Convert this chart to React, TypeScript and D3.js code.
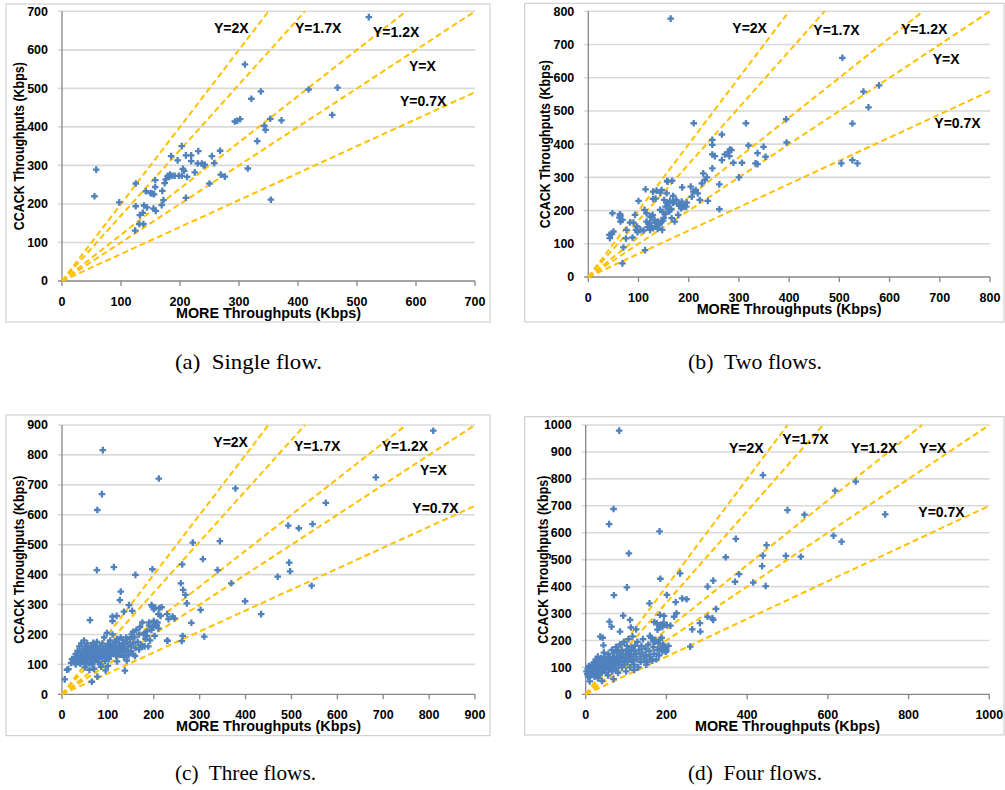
import React from 'react';
import * as d3 from 'd3';

type Pt = [number, number];

const slopes = [2, 1.7, 1.2, 1, 0.7];
const slopeLabels = ['Y=2X', 'Y=1.7X', 'Y=1.2X', 'Y=X', 'Y=0.7X'];
const xTitle = 'MORE Throughputs (Kbps)';
const yTitle = 'CCACK Throughputs (Kbps)';
const captions = ['(a)  Single flow.', '(b)  Two flows.', '(c)  Three flows.', '(d)  Four flows.'];
const axisMax = [700, 800, 900, 1000];
const xTickStep = [100, 100, 100, 200];
const yTickStep = [100, 100, 100, 100];

const singleFlow: Pt[] = [
  [520, 685], [58, 289], [55, 220], [97, 204], [125, 253], [125, 194], [124, 131], [131, 148], [138, 148],
  [132, 171], [137, 177], [139, 196], [144, 191], [142, 233], [153, 227], [156, 225], [158, 244], [158, 262],
  [155, 188], [159, 182], [169, 197], [170, 234], [172, 210], [174, 254], [176, 264], [179, 273], [183, 276],
  [185, 324], [187, 273], [191, 273], [196, 313], [198, 273], [203, 350], [203, 273], [205, 291], [207, 286],
  [210, 326], [210, 216], [212, 270], [219, 326], [219, 311], [225, 282], [230, 305], [231, 337], [237, 305],
  [242, 302], [254, 324], [258, 306], [250, 253], [268, 338], [269, 276], [276, 271], [293, 414], [297, 416],
  [302, 420], [310, 562], [315, 292], [321, 473], [331, 363], [337, 492], [343, 403], [345, 392], [353, 421],
  [354, 211], [372, 417], [418, 497], [467, 502], [458, 431], [150, 228], [182, 271], [240, 300],
];

const twoFlows: Pt[] = [
  [164, 778], [506, 660], [579, 577], [548, 558], [558, 511], [526, 462], [504, 342], [526, 352], [536, 342],
  [394, 475], [395, 405], [210, 463], [314, 463], [266, 429], [247, 413], [247, 398], [247, 369], [252, 364],
  [247, 327], [266, 352], [272, 369], [279, 377], [282, 384], [285, 382], [281, 364], [289, 344], [306, 344],
  [319, 396], [337, 373], [349, 392], [353, 362], [333, 342], [337, 340], [300, 300], [261, 279], [261, 204],
  [229, 312], [232, 292], [236, 300], [226, 282], [238, 229], [222, 232], [204, 272], [209, 257], [218, 252],
  [214, 262], [206, 242], [187, 270], [186, 227], [189, 212], [195, 212], [185, 207], [179, 187], [169, 244],
  [169, 224], [167, 290], [158, 287], [151, 232], [156, 224], [160, 222], [154, 212], [163, 202], [172, 167],
  [166, 177], [146, 262], [143, 254], [143, 202], [149, 170], [147, 142], [136, 260], [129, 257], [129, 235],
  [128, 187], [123, 182], [116, 167], [114, 264], [112, 202], [113, 81], [100, 229], [93, 187], [95, 142],
  [98, 135], [90, 164], [83, 164], [88, 119], [75, 116], [76, 142], [70, 89], [68, 41], [63, 189], [62, 179],
  [64, 167], [68, 172], [48, 192], [50, 137], [42, 127], [43, 117], [123, 142], [129, 147], [133, 164],
  [139, 167], [136, 152], [123, 164], [116, 192], [126, 182], [161, 197], [156, 252], [163, 230], [175, 232],
  [180, 220], [196, 224], [97, 152], [104, 142], [64, 185], [47, 129], [157, 289], [134, 236], [120, 160],
  [126, 150], [132, 172], [138, 145], [142, 158], [150, 178], [153, 190], [145, 165], [158, 215], [165, 205],
  [170, 226], [192, 214], [181, 214], [148, 196], [110, 140], [118, 150],
];

const threeFlows: Pt[] = [
  [809, 881], [684, 725], [575, 640], [493, 564], [516, 555], [546, 569], [495, 440], [497, 411], [470, 393],
  [544, 363], [378, 688], [369, 371], [399, 311], [434, 268], [344, 512], [339, 415], [307, 452], [302, 282],
  [310, 193], [285, 507], [282, 239], [262, 434], [259, 371], [264, 349], [269, 332], [272, 304], [263, 195],
  [241, 260], [245, 254], [230, 179], [229, 268], [217, 291], [211, 721], [197, 418], [197, 293], [200, 284],
  [89, 816], [87, 669], [77, 616], [76, 415], [113, 425], [160, 399], [61, 248], [128, 343], [126, 315],
  [146, 298], [153, 279], [135, 276], [119, 262], [110, 260], [110, 245], [155, 209], [159, 128], [141, 113],
  [137, 79], [65, 42], [77, 59], [6, 50], [11, 82], [14, 84], [212, 287], [210, 268], [232, 251], [229, 179],
  [261, 178], [195, 298], [203, 290], [206, 230], [215, 262], [190, 240], [180, 205], [185, 195], [175, 160],
  [168, 150],
  [20, 105], [22, 118], [25, 112], [28, 125], [30, 100], [30, 135], [32, 118], [34, 145], [35, 108], [36, 128],
  [38, 160], [38, 118], [40, 140], [40, 102], [42, 130], [42, 170], [43, 115], [45, 150], [45, 125], [46, 108],
  [48, 138], [48, 180], [50, 120], [50, 160], [52, 145], [52, 100], [54, 130], [55, 115], [55, 170], [56, 140],
  [58, 125], [58, 155], [60, 105], [60, 148], [62, 132], [62, 118], [64, 160], [65, 142], [66, 100], [66, 125],
  [68, 150], [68, 172], [70, 112], [70, 135], [72, 160], [72, 120], [74, 145], [75, 128], [76, 175], [78, 108],
  [78, 150], [80, 138], [80, 118], [82, 160], [84, 130], [85, 100], [86, 145], [88, 170], [88, 122], [90, 150],
  [90, 135], [92, 190], [94, 112], [95, 160], [96, 140], [98, 205], [98, 128], [100, 150], [100, 168], [102, 140],
  [102, 118], [104, 155], [105, 180], [106, 130], [108, 160], [108, 145], [110, 150], [110, 200], [112, 135],
  [112, 165], [114, 155], [115, 175], [116, 143], [118, 160], [118, 128], [120, 150], [120, 185], [122, 140],
  [124, 170], [125, 158], [126, 132], [128, 150], [128, 190], [130, 165], [130, 140], [132, 182], [134, 155],
  [135, 125], [136, 170], [138, 150], [140, 190], [140, 140], [142, 175], [144, 160], [145, 130], [148, 185],
  [150, 165], [150, 145], [152, 200], [155, 170], [155, 135], [158, 190], [160, 155], [162, 215], [165, 175],
  [168, 200], [170, 225], [172, 165], [175, 240], [178, 200], [180, 160], [182, 185], [185, 210], [188, 160],
  [190, 230], [192, 180], [195, 215], [198, 225], [200, 245], [202, 195], [205, 230], [208, 240], [210, 220],
  [70, 85], [85, 92], [100, 95], [120, 110], [95, 80], [60, 82], [50, 90],
];

const fourFlows: Pt[] = [
  [83, 979], [69, 688], [58, 632], [107, 523], [183, 605], [102, 397], [70, 368], [185, 429], [234, 449],
  [201, 369], [439, 814], [669, 790], [618, 756], [742, 668], [500, 684], [542, 667], [614, 589], [634, 567],
  [496, 514], [533, 511], [372, 577], [347, 509], [448, 554], [439, 515], [437, 476], [446, 402], [415, 415],
  [380, 446], [370, 418], [316, 422], [302, 400], [323, 317], [314, 282], [316, 276], [302, 288], [283, 264],
  [284, 233], [264, 241], [259, 177], [250, 353], [239, 356], [223, 342], [225, 301], [219, 288], [201, 257],
  [194, 291], [184, 295], [193, 266], [183, 249], [176, 264], [184, 202], [188, 167], [198, 165], [168, 196],
  [172, 202], [158, 338], [159, 217], [110, 276], [112, 248], [125, 241], [93, 292], [85, 233], [59, 270],
  [64, 251], [36, 214], [42, 210], [69, 56], [44, 182], [186, 258], [170, 268], [178, 240], [190, 250],
  [210, 255], [205, 180], [195, 175],
  [2, 85], [4, 75], [5, 95], [6, 65], [8, 88], [8, 105], [10, 78], [10, 48], [12, 92], [12, 70], [14, 100],
  [15, 82], [16, 110], [18, 72], [18, 95], [20, 85], [20, 118], [22, 100], [22, 65], [24, 90], [25, 130],
  [26, 108], [28, 78], [28, 95], [30, 115], [30, 140], [32, 88], [32, 100], [34, 125], [35, 72], [36, 108],
  [38, 95], [38, 135], [40, 118], [40, 85], [42, 102], [44, 128], [45, 155], [46, 92], [48, 112], [48, 140],
  [50, 80], [50, 120], [52, 98], [54, 130], [55, 108], [56, 150], [58, 90], [58, 118], [60, 135], [60, 100],
  [62, 125], [64, 110], [65, 165], [66, 85], [68, 140], [68, 120], [70, 100], [70, 155], [72, 130], [74, 115],
  [75, 175], [76, 95], [78, 140], [80, 125], [80, 160], [82, 108], [84, 145], [85, 185], [86, 120], [88, 135],
  [90, 100], [90, 165], [92, 150], [94, 125], [95, 195], [96, 110], [98, 140], [100, 160], [100, 130],
  [102, 180], [104, 120], [105, 145], [106, 205], [108, 165], [110, 135], [110, 100], [112, 150], [114, 175],
  [115, 125], [116, 215], [118, 140], [120, 160], [120, 110], [122, 180], [125, 150], [126, 130], [128, 195],
  [130, 100], [132, 165], [135, 140], [136, 120], [138, 180], [140, 155], [142, 205], [145, 130], [148, 170],
  [150, 145], [152, 120], [155, 185], [158, 160], [160, 140], [162, 210], [165, 125], [168, 175], [170, 150],
  [172, 195], [175, 130], [178, 165], [180, 190], [182, 145], [185, 170], [188, 210], [190, 160], [192, 185],
  [195, 165], [198, 158], [200, 162],
  [30, 60], [40, 50], [55, 70], [80, 80], [100, 85], [120, 90], [150, 110], [160, 130],
];

const seriesList: Pt[][] = [singleFlow, twoFlows, threeFlows, fourFlows];

// layout (pixels)
const layouts = [
  { frame: [6, 4, 490, 322], plot: [62, 11.3, 475, 281], cap: [175, 369, 147],
    labels: [[214, 28.3], [295, 28.3], [373, 32], [409, 66], [400, 101]] },
  { frame: [524.7, 3.3, 1004, 322], plot: [588.3, 11.3, 990, 277], cap: [688, 369, 134],
    labels: [[732.3, 28.3], [813.3, 30], [901, 29.3], [932.7, 59.3], [934.3, 123.3]] },
  { frame: [6, 415, 490, 735.7], plot: [62, 425, 475, 694.3], cap: [175, 780, 141],
    labels: [[213.3, 442.3], [294, 446], [381.7, 446], [420, 470], [412.3, 507.7]] },
  { frame: [524.7, 416.7, 1004, 735], plot: [585.7, 425, 989.3, 694.3], cap: [688, 780, 134],
    labels: [[729, 448.3], [782.3, 439.3], [851, 448.3], [919.3, 448.3], [918.3, 511.7]] },
];

const SANS = '"Liberation Sans", Arial, sans-serif';
const SERIF = '"Liberation Serif", "Times New Roman", serif';
const BLUE = '#4F81BD';
const GOLD = '#FFC000';

function Panel({ idx }: { idx: number }) {
  const L = layouts[idx];
  const max = axisMax[idx];
  const [pl, pt, pr, pb] = L.plot;
  const x = d3.scaleLinear().domain([0, max]).range([pl, pr]);
  const y = d3.scaleLinear().domain([0, max]).range([pb, pt]);
  const xt = d3.range(0, max + 1, xTickStep[idx]);
  const yt = d3.range(0, max + 1, yTickStep[idx]);
  const line = d3.line<Pt>().x((d) => x(d[0])).y((d) => y(d[1]));
  const pts = seriesList[idx];
  const [fx0, fy0, fx1, fy1] = L.frame;
  const cx = (pl + pr) / 2;
  const cy = (pt + pb) / 2;
  return (
    <g>
      <rect x={fx0} y={fy0} width={fx1 - fx0} height={fy1 - fy0} fill="#fff" stroke="#c8c8c8" strokeWidth={1} />
      {yt.filter((v) => v > 0).map((v) => (
        <line key={'g' + v} x1={pl - 4} x2={pr} y1={y(v)} y2={y(v)} stroke="#d9d9d9" strokeWidth={1.6} />
      ))}
      <line x1={pl} x2={pl} y1={pt} y2={pb} stroke="#868686" strokeWidth={1.3} />
      <line x1={pl - 4} x2={pr} y1={pb} y2={pb} stroke="#868686" strokeWidth={1.3} />
      {xt.map((v) => (
        <line key={'t' + v} x1={x(v)} x2={x(v)} y1={pb} y2={pb + 5} stroke="#868686" strokeWidth={1.3} />
      ))}
      {yt.map((v) => (
        <text key={'yl' + v} x={pl - 14} y={y(v) + 4.4} textAnchor="end" fontFamily={SANS} fontWeight="bold" fontSize={12.5} fill="#000">
          {v}
        </text>
      ))}
      {xt.map((v) => (
        <text key={'xl' + v} x={x(v)} y={pb + 24.5} textAnchor="middle" fontFamily={SANS} fontWeight="bold" fontSize={12.5} fill="#000">
          {v}
        </text>
      ))}
      <text x={cx} y={pb + 37} textAnchor="middle" fontFamily={SANS} fontWeight="bold" fontSize={14} textLength={185} lengthAdjust="spacingAndGlyphs" fill="#000">
        {xTitle}
      </text>
      <text transform={`translate(${pl - 38},${cy}) rotate(-90)`} textAnchor="middle" fontFamily={SANS} fontWeight="bold" fontSize={14} textLength={168} lengthAdjust="spacingAndGlyphs" fill="#000">
        {yTitle}
      </text>
      {slopes.map((k, i) => {
        const xEnd = Math.min(max, max / k);
        const d = line([[0, 0], [xEnd, k * xEnd]]) || '';
        return <path key={'s' + i} d={d} fill="none" stroke={GOLD} strokeWidth={2} strokeDasharray="6,3.5" />;
      })}
      {pts.map((p, i) => (
        <path key={'p' + i} d={`M${x(p[0]) - 3.3},${y(p[1])}h6.6M${x(p[0])},${y(p[1]) - 3.3}v6.6`} stroke={BLUE} strokeWidth={2.3} fill="none" />
      ))}
      {slopeLabels.map((s, i) => (
        <text key={'l' + i} x={L.labels[i][0]} y={L.labels[i][1] + 5} fontFamily={SANS} fontWeight="bold" fontSize={14} fill="#000">
          {s}
        </text>
      ))}
      <text x={L.cap[0]} y={L.cap[1]} fontFamily={SERIF} fontSize={21} textLength={L.cap[2]} lengthAdjust="spacingAndGlyphs" fill="#000" style={{ whiteSpace: 'pre' }}>
        {captions[idx]}
      </text>
    </g>
  );
}

export default function App() {
  return (
    <svg width={1005} height={790} viewBox="0 0 1005 790" style={{ position: 'absolute', left: 0, top: 0, background: '#fff' }}>
      <rect x={0} y={0} width={1005} height={790} fill="#fff" />
      {[0, 1, 2, 3].map((i) => (
        <Panel key={i} idx={i} />
      ))}
    </svg>
  );
}
